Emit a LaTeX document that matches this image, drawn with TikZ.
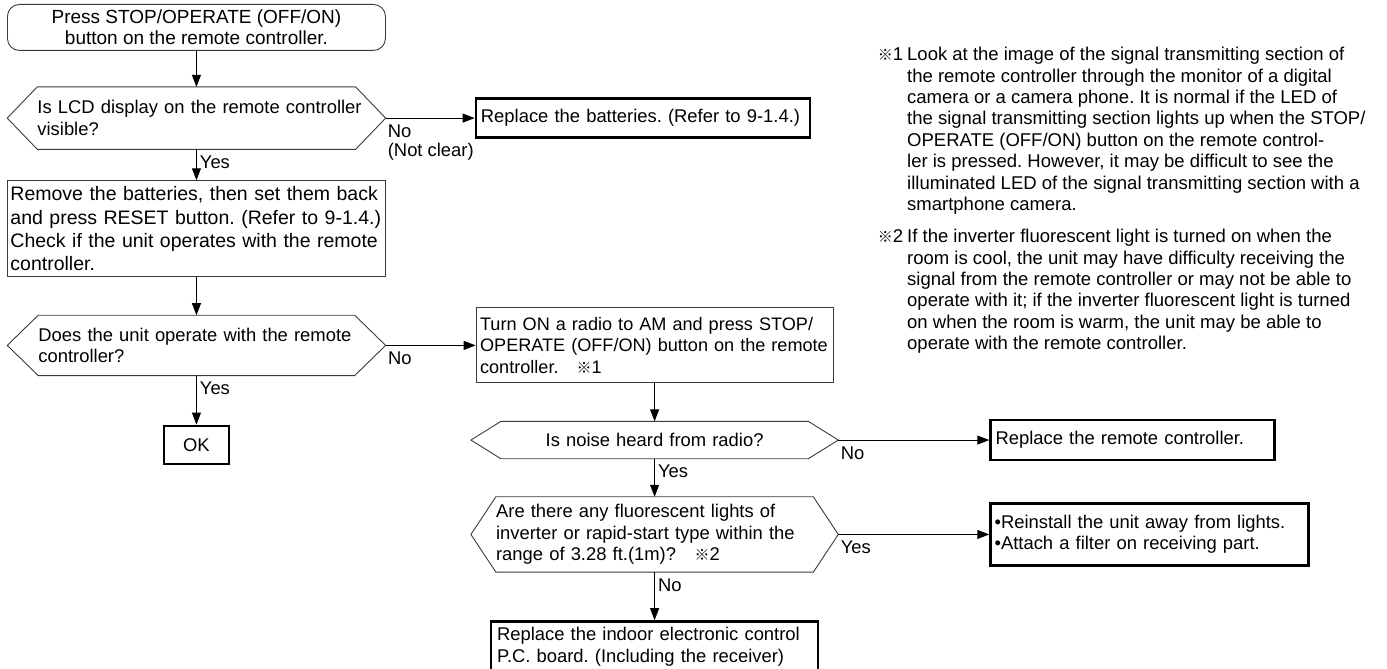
\documentclass[tikz,border=0pt]{standalone}
\usepackage{fontspec}
\setmainfont{Liberation Sans}
\newfontfamily\cjkfont{Noto Sans CJK JP}
\usetikzlibrary{positioning, arrows.meta}
\definecolor{lineg}{HTML}{3A3A3A}
\newcommand{\refmark}{{\cjkfont\fontsize{15}{15}\selectfont ※}}
\frenchspacing
\hyphenpenalty=10000
\exhyphenpenalty=10000

\begin{document}
\begin{tikzpicture}[
    x=1pt, y=-1pt,
    >={Triangle[length=12pt, width=9pt]},
    base/.style={font=\fontsize{18.4}{21.5}\selectfont, text=black},
    lpad/.style={execute at begin node={\leftskip=#1}},
    startbox/.style={
      base, rectangle, rounded corners=12pt,
      draw=lineg, line width=0.9pt,
      minimum width=378pt, minimum height=46pt,
      align=center, inner sep=0pt,
    },
    process/.style={
      base, rectangle, draw=lineg, line width=0.9pt,
      align=left, inner xsep=2pt,
    },
    result/.style={
      base, rectangle, draw=black, line width=2.6pt,
      align=left, inner xsep=2pt,
    },
    decision/.style={
      base, rectangle, inner ysep=0pt, inner xsep=2pt, align=left,
      append after command={\pgfextra{\draw[draw=lineg, line width=0.9pt]
        (\tikzlastnode.west) -- ([xshift=#1]\tikzlastnode.north west)
        -- ([xshift=-#1]\tikzlastnode.north east) -- (\tikzlastnode.east)
        -- ([xshift=-#1]\tikzlastnode.south east)
        -- ([xshift=#1]\tikzlastnode.south west) -- cycle;}},
    },
    arrow/.style={->, line width=0.9pt},
    downlbl/.style={base, inner sep=1pt, pos=0, anchor=north west, xshift=2pt, yshift=-5pt},
    sidelbl/.style={base, inner sep=1pt, pos=0, anchor=base west, xshift=1pt, yshift=-19pt},
    note/.style={font=\fontsize{18.5}{21.4}\selectfont, align=left, inner sep=0pt, anchor=north west},
  ]

  \useasboundingbox (0,0) rectangle (1387,669);

  % left column
  \node[startbox, font=\fontsize{19}{21}\selectfont, anchor=north west] (start) at (7,4)
    {Press STOP/OPERATE (OFF/ON)\\button on the remote controller.};
  \node[decision=30pt, lpad=28pt, text width=374pt, minimum height=62pt, below=36pt of start] (lcd)
    {Is LCD display on the remote controller\\visible?};
  \node[process, font=\fontsize{19.5}{23.3}\selectfont, inner ysep=2pt, lpad=1pt,
        text width=374pt, minimum height=96pt, below=31pt of lcd] (reset)
    {Remove the batteries, then set them back\\
     and press RESET button. (Refer to 9-1.4.)\\
     Check if the unit operates with the remote\\
     controller.};
  \node[decision=31pt, lpad=29pt, text width=374pt, minimum height=60pt, below=38pt of reset] (dev)
    {Does the unit operate with the remote\\controller?};
  \node[result, align=center, minimum width=65pt, minimum height=38pt, below=49pt of dev] (ok) {OK};

  \node[result, lpad=3pt, text width=330pt, minimum height=39pt, right=89pt of lcd] (batt)
    {Replace the batteries. (Refer to 9-1.4.)};

  % radio check
  \node[process, font=\fontsize{18.1}{21.5}\selectfont, lpad=2pt, text width=353pt,
        minimum height=75pt, right=90pt of dev] (radio)
    {Turn ON a radio to AM and press STOP/\\
     OPERATE (OFF/ON) button on the remote\\
     controller.\quad\refmark1};
  \node[decision=30pt, align=center, text width=363pt,
        minimum height=37pt, below=38pt of radio] (noise)
    {Is noise heard from radio?};
  \node[result, lpad=3pt, text width=280pt, minimum height=40pt, right=151pt of noise] (remote)
    {Replace the remote controller.};
  \node[decision=25pt, lpad=23pt, text width=363pt, minimum height=75pt, below=38pt of noise] (fluor)
    {Are there any fluorescent lights of\\
     inverter or rapid-start type within the\\
     range of 3.28 ft.(1m)?\quad\refmark2};
  \node[result, lpad=2pt, text width=314pt, minimum height=62pt, right=151pt of fluor] (reinstall)
    {•Reinstall the unit away from lights.\\
     •Attach a filter on receiving part.};
  \node[result, lpad=4pt, text width=323pt, minimum height=51pt, below=48pt of fluor] (board)
    {Replace the indoor electronic control\\
     P.C. board. (Including the receiver)};

  % connectors
  \draw[arrow] (start) -- (lcd);
  \draw[arrow] (lcd) -- node[downlbl] {Yes} (reset);
  \draw[arrow] (lcd.east) -- (batt.west);
  \node[base, font=\fontsize{18.4}{19}\selectfont, inner sep=1pt, align=left, anchor=north west]
    (nolcd) at ([xshift=1pt, yshift=-6pt]lcd.east) {No\\(Not clear)};
  \draw[arrow] (reset) -- (dev);
  \draw[arrow] (dev) -- node[downlbl] {Yes} (ok);
  \draw[arrow] (dev.east) -- node[sidelbl] {No} (radio.west);
  \draw[arrow] (radio) -- (noise);
  \draw[arrow] (noise) -- node[downlbl] {Yes} (fluor);
  \draw[arrow] (noise.east) -- node[sidelbl] {No} (remote.west);
  \draw[arrow] (fluor.east) -- node[sidelbl] {Yes} (reinstall.west);
  \draw[arrow] (fluor) -- node[downlbl] {No} (board);

  % notes
  \node[note] (note1) at (907,47)
    {\llap{\refmark1\hspace{4pt}}Look at the image of the signal transmitting section of\\
     the remote controller through the monitor of a digital\\
     camera or a camera phone. It is normal if the LED of\\
     the signal transmitting section lights up when the STOP/\\
     OPERATE (OFF/ON) button on the remote control-\\
     ler is pressed. However, it may be difficult to see the\\
     illuminated LED of the signal transmitting section with a\\
     smartphone camera.};
  \node[note] (note2) at (907,229)
    {\llap{\refmark2\hspace{4pt}}If the inverter fluorescent light is turned on when the\\
     room is cool, the unit may have difficulty receiving the\\
     signal from the remote controller or may not be able to\\
     operate with it; if the inverter fluorescent light is turned\\
     on when the room is warm, the unit may be able to\\
     operate with the remote controller.};
\end{tikzpicture}
\end{document}
